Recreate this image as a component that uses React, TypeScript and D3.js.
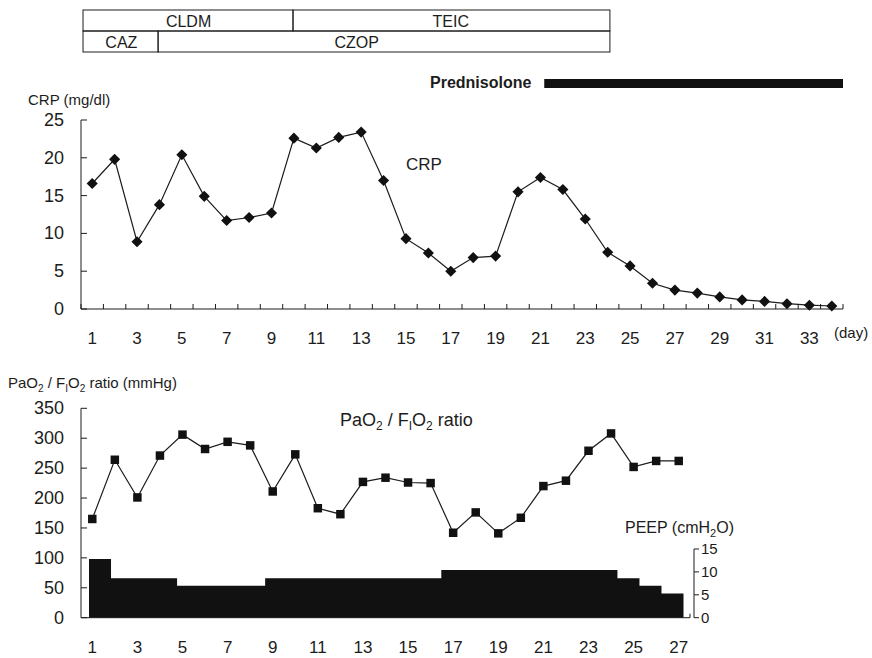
import React from "react";
import * as d3 from "d3";

// CRP (mg/dl), days 1..34
const crpDays = d3.range(1, 35);
const crpValues = [
  16.6, 19.8, 8.9, 13.8, 20.4, 14.9, 11.7, 12.1, 12.7, 22.6, 21.3, 22.7, 23.4, 17.0,
  9.3, 7.4, 5.0, 6.8, 7.0, 15.5, 17.4, 15.8, 11.9, 7.5, 5.7, 3.4, 2.5, 2.1, 1.6, 1.2,
  1.0, 0.7, 0.5, 0.4,
];
const crpTicks = [0, 5, 10, 15, 20, 25];
const dayLabels = d3.range(1, 34, 2);

// PaO2/FiO2 ratio (mmHg) and PEEP (cmH2O), days 1..27
const ratioDays = d3.range(1, 28);
const ratioValues = [
  165, 264, 201, 271, 306, 282, 294, 288, 211, 273, 183, 173, 227, 234, 226, 225,
  142, 176, 141, 167, 220, 229, 279, 308, 252, 262, 262,
];
const peepValues = [
  12.8, 8.6, 8.6, 8.6, 7.0, 7.0, 7.0, 7.0, 8.6, 8.6, 8.6, 8.6, 8.6, 8.6, 8.6, 8.6,
  10.4, 10.4, 10.4, 10.4, 10.4, 10.4, 10.4, 10.4, 8.6, 7.0, 5.3,
];
const ratioTicks = [0, 50, 100, 150, 200, 250, 300, 350];
const peepTicks = [0, 5, 10, 15];
const ratioDayLabels = d3.range(1, 28, 2);

// antibiotic / steroid periods (in days)
const therapies = [
  { name: "CLDM", row: 0, start: 0.59, end: 9.96, labelDay: 5.3 },
  { name: "TEIC", row: 0, start: 9.96, end: 24.1, labelDay: 17.0 },
  { name: "CAZ", row: 1, start: 0.59, end: 3.94, labelDay: 2.3 },
  { name: "CZOP", row: 1, start: 3.94, end: 24.1, labelDay: 12.8 },
];
const prednisolone = { start: 21.17, end: 34.5 };

const ink = "#1c1c1c";
const font = "'Liberation Sans', Arial, sans-serif";

const App = () => {
  // top panel
  const x = d3.scaleLinear().domain([0.5, 34.5]).range([81, 843]);
  const y = d3.scaleLinear().domain([0, 25]).range([309, 120]);
  const crpLine = d3
    .line<number>()
    .x((_, i) => x(crpDays[i]))
    .y((d) => y(d));
  const diamond = d3.symbol(d3.symbolSquare, 62)();

  // bottom panel
  const x2 = d3.scaleLinear().domain([0.5, 27.5]).range([81, 690]);
  const y2 = d3.scaleLinear().domain([0, 350]).range([617.7, 408.3]);
  const yPeep = d3.scaleLinear().domain([0, 15]).range([617.7, 549]);
  const xBar = d3
    .scaleBand<number>()
    .domain(ratioDays)
    .range([89, 683.5])
    .padding(0);
  const ratioLine = d3
    .line<number>()
    .x((_, i) => x2(ratioDays[i]))
    .y((d) => y2(d));
  const square = d3.symbol(d3.symbolSquare, 72)();

  // PEEP as one stepped area so the bars have no seams
  const peepPts = [...peepValues, peepValues[peepValues.length - 1]];
  const peepArea = d3
    .area<number>()
    .x((_, i) => (i < ratioDays.length ? (xBar(ratioDays[i]) as number) : 683.5))
    .y0(yPeep(0))
    .y1((d) => yPeep(d))
    .curve(d3.curveStepAfter);

  const rowY = [10, 31];

  return (
    <svg
      width={872}
      height={658}
      style={{ position: "absolute", left: 0, top: 0, background: "#fff" }}
      fontFamily={font}
      fill={ink}
    >
      {/* therapy boxes */}
      {therapies.map((t) => (
        <g key={t.name}>
          <rect
            x={x(t.start)}
            y={rowY[t.row]}
            width={x(t.end) - x(t.start)}
            height={21}
            fill="none"
            stroke={ink}
            strokeWidth={1}
          />
          <text x={x(t.labelDay)} y={rowY[t.row] + 16.5} textAnchor="middle" fontSize={16}>
            {t.name}
          </text>
        </g>
      ))}

      {/* prednisolone */}
      <text x={430} y={88} fontSize={16} fontWeight="bold">
        Prednisolone
      </text>
      <rect
        x={x(prednisolone.start)}
        y={79}
        width={x(prednisolone.end) - x(prednisolone.start)}
        height={9}
        fill="#111"
      />

      {/* CRP panel */}
      <text x={28} y={105} fontSize={15}>
        CRP (mg/dl)
      </text>
      <line x1={81} x2={81} y1={y(25)} y2={y(0)} stroke={ink} />
      <line x1={81} x2={843} y1={y(0)} y2={y(0)} stroke={ink} />
      {crpTicks.map((t) => (
        <g key={t}>
          <line x1={81} x2={87} y1={y(t)} y2={y(t)} stroke={ink} />
          <text x={64} y={y(t) + 6} textAnchor="end" fontSize={18}>
            {t}
          </text>
        </g>
      ))}
      {d3.range(0, 35).map((k) => (
        <line key={k} x1={x(k + 0.5)} x2={x(k + 0.5)} y1={y(0)} y2={y(0) - 5} stroke={ink} />
      ))}
      {dayLabels.map((d) => (
        <text key={d} x={x(d)} y={344} textAnchor="middle" fontSize={17}>
          {d}
        </text>
      ))}
      <text x={834} y={338} fontSize={15}>
        (day)
      </text>
      <path d={crpLine(crpValues) ?? ""} fill="none" stroke={ink} strokeWidth={1.2} />
      {crpValues.map((v, i) => (
        <path
          key={i}
          d={diamond ?? ""}
          transform={`translate(${x(crpDays[i])},${y(v)}) rotate(45)`}
          fill="#111"
        />
      ))}
      <text x={406} y={170} fontSize={17}>
        CRP
      </text>

      {/* PaO2/FiO2 panel */}
      <text x={8} y={388} fontSize={15}>
        PaO<tspan fontSize={10} dy={4}>2</tspan>
        <tspan dy={-4}> / F</tspan>
        <tspan fontSize={10} dy={4}>I</tspan>
        <tspan dy={-4}>O</tspan>
        <tspan fontSize={10} dy={4}>2</tspan>
        <tspan dy={-4}> ratio (mmHg)</tspan>
      </text>
      <path d={peepArea(peepPts) ?? ""} fill="#111" />
      <line x1={81} x2={81} y1={y2(350)} y2={y2(0)} stroke={ink} />
      <line x1={81} x2={690} y1={y2(0)} y2={y2(0)} stroke={ink} />
      <line x1={690} x2={690} y1={y2(0)} y2={y2(0) - 4} stroke={ink} />
      {ratioTicks.map((t) => (
        <g key={t}>
          <line x1={81} x2={87} y1={y2(t)} y2={y2(t)} stroke={ink} />
          <text x={64} y={y2(t) + 6} textAnchor="end" fontSize={18}>
            {t}
          </text>
        </g>
      ))}
      {ratioDayLabels.map((d) => (
        <text key={d} x={x2(d)} y={653} textAnchor="middle" fontSize={17}>
          {d}
        </text>
      ))}
      <path d={ratioLine(ratioValues) ?? ""} fill="none" stroke={ink} strokeWidth={1.2} />
      {ratioValues.map((v, i) => (
        <path
          key={i}
          d={square ?? ""}
          transform={`translate(${x2(ratioDays[i])},${y2(v)})`}
          fill="#111"
        />
      ))}
      <text x={340} y={426} fontSize={18}>
        PaO<tspan fontSize={12} dy={4}>2</tspan>
        <tspan dy={-4}> / F</tspan>
        <tspan fontSize={12} dy={4}>I</tspan>
        <tspan dy={-4}>O</tspan>
        <tspan fontSize={12} dy={4}>2</tspan>
        <tspan dy={-4}> ratio</tspan>
      </text>

      {/* PEEP axis */}
      <text x={625} y={533} fontSize={16}>
        PEEP (cmH<tspan fontSize={11} dy={4}>2</tspan>
        <tspan dy={-4}>O)</tspan>
      </text>
      <line x1={694} x2={694} y1={yPeep(15)} y2={yPeep(0)} stroke={ink} />
      {peepTicks.map((t) => (
        <g key={t}>
          <line x1={694} x2={699} y1={yPeep(t)} y2={yPeep(t)} stroke={ink} />
          <text x={701} y={yPeep(t) + 5} fontSize={15}>
            {t}
          </text>
        </g>
      ))}
    </svg>
  );
};

export default App;
